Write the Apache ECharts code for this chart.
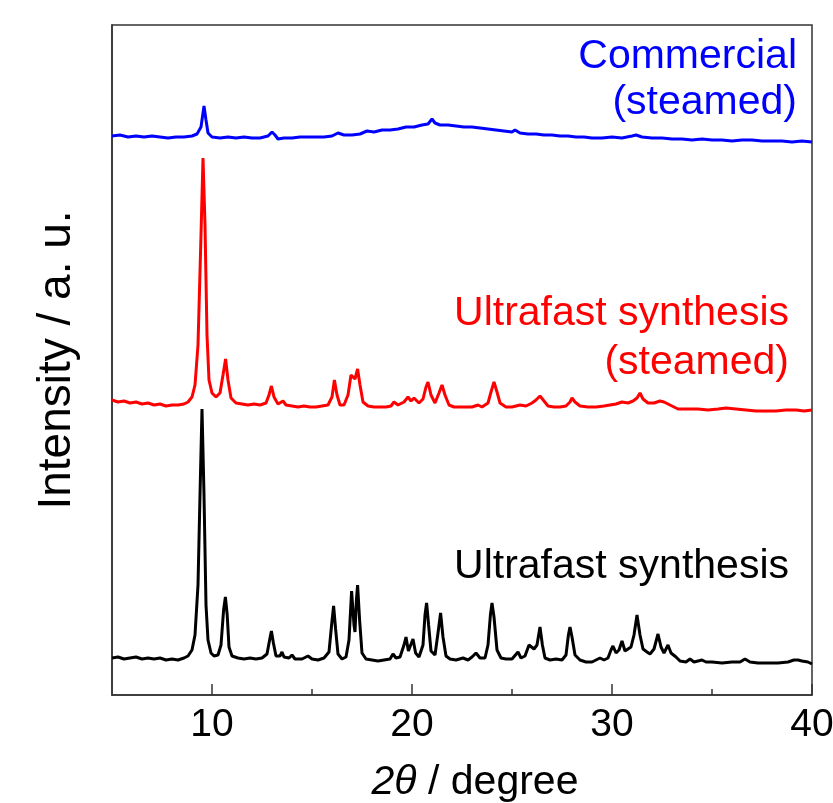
<!DOCTYPE html>
<html>
<head>
<meta charset="utf-8">
<script src="https://cdn.jsdelivr.net/npm/echarts@6/dist/echarts.min.js"></script>
<style>
  html, body { margin: 0; padding: 0; background: #fff; }
  #main { width: 833px; height: 803px; }
</style>
</head>
<body>
<div id="main"></div>
<script>
// XRD patterns, [2theta, intensity] (stacked, arbitrary units)
var commercialSteamed = [
  [5.0,559],[5.4,560],[5.8,558],[6.2,559],[6.6,558],[7.0,559],[7.4,558],[7.8,557],[8.2,558],[8.6,558],
  [9.0,559],[9.25,561],[9.45,568],[9.6,589],[9.7,575],[9.8,562],[10.0,558],[10.4,557],[10.8,558],[11.2,557],
  [11.6,558],[12.0,557],[12.4,557],[12.8,559],[13.0,563],[13.15,560],[13.3,556],[13.6,557],[14.0,557],[14.4,558],
  [14.8,558],[15.2,558],[15.6,558],[16.0,559],[16.3,562],[16.6,560],[17.0,560],[17.4,561],[17.75,564],[18.1,563],
  [18.5,565],[18.9,565],[19.3,566],[19.7,568],[20.1,568],[20.5,570],[20.8,571],[21.0,576],[21.15,572],[21.4,570],
  [21.8,570],[22.2,569],[22.6,568],[23.0,568],[23.4,567],[23.8,566],[24.2,565],[24.6,564],[25.0,563],[25.15,565],
  [25.4,562],[25.8,561],[26.2,561],[26.6,560],[27.0,560],[27.4,559],[27.8,559],[28.2,558],[28.6,558],[29.0,557],
  [29.5,557],[30.0,558],[30.5,557],[31.0,559],[31.2,560],[31.5,558],[32.0,557],[32.5,557],[33.0,556],[33.5,556],
  [34.0,555],[34.5,556],[35.0,555],[35.5,555],[36.0,554],[36.5,555],[37.0,555],[37.5,554],[38.0,554],[38.5,554],
  [39.0,553],[39.5,554],[40.0,553]
];

var ultrafastSteamed = [
  [5.0,295],[5.3,293],[5.6,294],[5.9,292],[6.2,293],[6.5,291],[6.8,292],[7.1,290],[7.4,291],[7.7,289],
  [8.0,290],[8.3,290],[8.6,291],[8.8,293],[9.0,298],[9.15,310],[9.3,350],[9.45,460],[9.55,537],[9.65,470],
  [9.75,360],[9.85,315],[10.0,302],[10.2,298],[10.4,302],[10.55,320],[10.68,336],[10.8,315],[10.95,297],[11.2,292],
  [11.5,291],[11.8,290],[12.1,291],[12.4,290],[12.7,292],[12.85,300],[12.97,309],[13.1,298],[13.3,291],[13.55,294],
  [13.7,290],[14.0,289],[14.3,288],[14.6,289],[14.9,288],[15.2,288],[15.5,289],[15.8,290],[16.0,298],[16.12,315],
  [16.25,300],[16.4,290],[16.6,290],[16.8,300],[16.95,320],[17.05,322],[17.15,316],[17.28,326],[17.4,310],[17.55,293],
  [17.8,289],[18.1,288],[18.4,288],[18.7,288],[18.95,289],[19.1,293],[19.3,290],[19.6,293],[19.8,298],[19.95,294],
  [20.1,297],[20.2,299],[20.35,292],[20.55,296],[20.7,308],[20.8,313],[20.95,300],[21.15,292],[21.35,302],[21.5,310],
  [21.65,300],[21.85,290],[22.1,288],[22.4,288],[22.7,288],[23.0,288],[23.3,290],[23.5,288],[23.8,292],[23.95,303],
  [24.1,313],[24.25,303],[24.4,292],[24.7,288],[25.0,288],[25.4,290],[25.7,289],[26.0,292],[26.2,295],[26.4,299],
  [26.6,294],[26.8,289],[27.1,288],[27.4,288],[27.7,289],[27.9,293],[28.0,297],[28.15,293],[28.4,289],[28.8,288],
  [29.2,288],[29.6,289],[29.9,290],[30.2,291],[30.5,293],[30.8,292],[31.05,294],[31.25,297],[31.4,302],[31.55,296],
  [31.8,292],[32.1,292],[32.4,294],[32.6,293],[32.9,290],[33.3,286],[33.8,286],[34.3,286],[34.8,285],[35.3,286],
  [35.7,287],[36.2,286],[36.7,285],[37.2,284],[37.7,284],[38.2,284],[38.7,285],[39.2,285],[39.6,284],[40.0,285]
];

var ultrafast = [
  [5.0,37],[5.3,38],[5.6,36],[5.9,37],[6.2,38],[6.5,36],[6.8,37],[7.1,36],[7.4,37],[7.7,35],
  [8.0,36],[8.3,35],[8.6,37],[8.8,39],[9.0,45],[9.15,60],[9.3,110],[9.4,200],[9.5,286],[9.6,200],
  [9.7,90],[9.8,55],[9.95,42],[10.1,39],[10.3,40],[10.45,50],[10.58,85],[10.67,98],[10.76,80],[10.85,48],
  [11.0,39],[11.3,37],[11.6,36],[11.9,37],[12.2,36],[12.5,37],[12.75,41],[12.88,55],[12.97,64],[13.07,52],
  [13.2,39],[13.4,39],[13.5,43],[13.6,38],[13.85,37],[14.0,40],[14.15,36],[14.5,36],[14.8,39],[15.0,36],
  [15.3,35],[15.6,37],[15.85,43],[15.98,70],[16.08,89],[16.18,66],[16.3,41],[16.5,36],[16.7,38],[16.85,55],
  [16.98,104],[17.1,70],[17.15,63],[17.22,95],[17.28,110],[17.38,75],[17.5,42],[17.7,36],[18.0,35],[18.3,34],
  [18.6,35],[18.9,36],[19.05,41],[19.2,37],[19.4,38],[19.6,50],[19.7,58],[19.82,44],[19.9,45],[20.05,56],
  [20.18,42],[20.35,38],[20.55,50],[20.65,80],[20.73,92],[20.83,70],[20.95,44],[21.15,40],[21.3,62],[21.43,82],
  [21.55,58],[21.7,39],[21.9,36],[22.2,35],[22.55,37],[22.8,35],[23.0,38],[23.2,42],[23.4,37],[23.65,37],
  [23.8,50],[23.92,80],[24.0,92],[24.1,78],[24.25,45],[24.45,37],[24.7,36],[25.0,36],[25.3,43],[25.45,37],
  [25.65,39],[25.85,50],[25.95,52],[26.1,46],[26.25,50],[26.4,68],[26.52,50],[26.65,37],[26.9,35],[27.2,36],
  [27.5,35],[27.7,40],[27.82,60],[27.9,68],[28.0,58],[28.15,40],[28.4,35],[28.7,33],[29.0,33],[29.2,35],
  [29.4,37],[29.6,35],[29.8,37],[29.95,45],[30.05,49],[30.2,42],[30.35,45],[30.5,54],[30.65,44],[30.8,46],
  [30.95,48],[31.1,60],[31.25,80],[31.4,60],[31.55,46],[31.75,43],[31.9,41],[32.1,46],[32.3,61],[32.45,48],
  [32.6,42],[32.8,50],[32.95,42],[33.2,38],[33.4,34],[33.7,33],[33.9,36],[34.1,33],[34.5,35],[34.7,33],
  [35.0,33],[35.5,32],[36.0,33],[36.4,33],[36.65,36],[36.9,33],[37.3,32],[37.8,32],[38.3,32],[38.8,33],
  [39.1,35],[39.3,35],[39.5,34],[39.8,33],[40.0,31]
];

var majorTicks = [10, 20, 30, 40];
var minorTicks = [15, 25, 35];

var fontFamily = '"Liberation Sans", Arial, sans-serif';
var frameColor = '#333';

var myChart = echarts.init(document.getElementById('main'));

function trace(name, data, color) {
    return {
        name: name,
        type: 'line',
        data: data,
        symbol: 'none',
        smooth: false,
        lineStyle: { color: color, width: 3 },
        z: 3
    };
}

option = {
    animation: false,
    grid: {
        left: 112, right: 21, top: 25, bottom: 108,
        outerBoundsMode: 'none',
        show: true,
        borderColor: frameColor,
        borderWidth: 1.5
    },
    xAxis: [
        {
            type: 'value',
            min: 5,
            max: 40,
            position: 'bottom',
            axisLine: { show: true, lineStyle: { color: frameColor, width: 1.5 } },
            axisTick: { show: true, inside: true, length: 11, customValues: majorTicks, lineStyle: { color: frameColor, width: 1.5 } },
            axisLabel: { customValues: majorTicks, fontSize: 39, color: '#000', fontFamily: fontFamily, margin: 11 },
            splitLine: { show: false },
            name: '{i|2θ} / degree',
            nameLocation: 'middle',
            nameGap: 67,
            nameTextStyle: {
                fontSize: 41, color: '#000', fontFamily: fontFamily,
                padding: [0, 0, 0, 26],
                rich: { i: { fontSize: 41, fontStyle: 'italic', fontFamily: fontFamily, color: '#000' } }
            }
        },
        {
            type: 'value',
            min: 5,
            max: 40,
            position: 'bottom',
            axisLine: { show: false },
            axisTick: { show: true, inside: true, length: 6, customValues: minorTicks, lineStyle: { color: frameColor, width: 1.5 } },
            axisLabel: { show: false },
            splitLine: { show: false }
        }
    ],
    yAxis: {
        type: 'value',
        min: 0,
        max: 670,
        axisLine: { show: true, lineStyle: { color: frameColor, width: 1.5 } },
        axisTick: { show: false },
        axisLabel: { show: false },
        splitLine: { show: false },
        name: 'Intensity / a. u.',
        nameLocation: 'middle',
        nameGap: 32,
        nameTextStyle: { fontSize: 46, color: '#000', fontFamily: fontFamily }
    },
    graphic: [
        {
            type: 'text', x: 797, y: 34,
            style: { text: 'Commercial\n(steamed)', align: 'right', verticalAlign: 'top', lineHeight: 46,
                     fill: '#0000ff', font: '41px ' + fontFamily }
        },
        {
            type: 'text', x: 789, y: 289,
            style: { text: 'Ultrafast synthesis\n(steamed)', align: 'right', verticalAlign: 'top', lineHeight: 49,
                     fill: '#ff0000', font: '41px ' + fontFamily }
        },
        {
            type: 'text', x: 789, y: 543,
            style: { text: 'Ultrafast synthesis', align: 'right', verticalAlign: 'top', lineHeight: 47,
                     fill: '#000', font: '41px ' + fontFamily }
        }
    ],
    series: [
        trace('Commercial (steamed)', commercialSteamed, '#0000ff'),
        trace('Ultrafast synthesis (steamed)', ultrafastSteamed, '#ff0000'),
        trace('Ultrafast synthesis', ultrafast, '#000000')
    ]
};
myChart.setOption(option);
</script>
</body>
</html>
